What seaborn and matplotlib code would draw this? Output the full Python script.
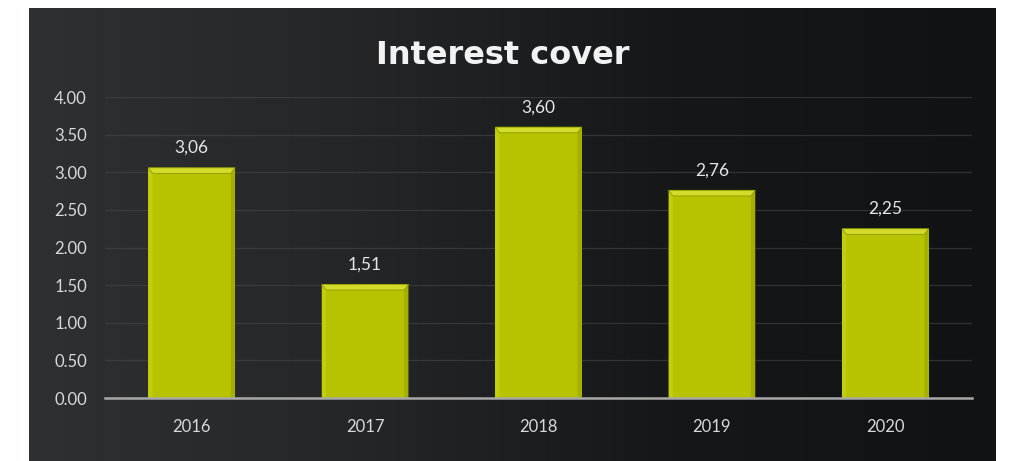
import numpy as np
import pandas as pd
import matplotlib
matplotlib.use("Agg")
import matplotlib.pyplot as plt
import seaborn as sns
from matplotlib.patches import Polygon

years = ["2016", "2017", "2018", "2019", "2020"]
cover = [3.06, 1.51, 3.60, 2.76, 2.25]
value_labels = ["3,06", "1,51", "3,60", "2,76", "2,25"]
y_ticks = [0.0, 0.5, 1.0, 1.5, 2.0, 2.5, 3.0, 3.5, 4.0]

df = pd.DataFrame({"year": years, "cover": cover})

sns.set_theme(style="white")
plt.rcParams["font.family"] = ["Lato", "DejaVu Sans"]

W, H = 1014, 461
fig = plt.figure(figsize=(W / 100, H / 100), dpi=100, facecolor="white")

# chalkboard panel with a left-to-right darkening gradient
bg = fig.add_axes([29 / W, 0, (996 - 29) / W, (H - 8) / H], zorder=0)
grad = np.linspace(0, 1, 256)[None, :]
cmap = matplotlib.colors.LinearSegmentedColormap.from_list(
    "board", ["#2f3032", "#252628", "#161719", "#111214"])
bg.imshow(grad, aspect="auto", cmap=cmap, extent=[0, 1, 0, 1])
bg.set_axis_off()

ax = fig.add_axes([105 / W, (H - 398) / H, (972 - 105) / W, (398 - 97) / H], zorder=1)
ax.patch.set_alpha(0)

sns.barplot(data=df, x="year", y="cover", ax=ax, color="#b7c300",
            width=0.5, saturation=1, edgecolor="none", zorder=3)

ax.set_ylim(0, 4.0)
ax.set_xlim(-0.5, 4.5)
ax.set_yticks(y_ticks)
ax.set_yticklabels([f"{t:.2f}" for t in y_ticks])
for t in y_ticks[1:]:
    ax.axhline(t, color="#4a4b4d", lw=0.9, alpha=0.55, zorder=1)

# bevelled edges on each bar
for p in ax.patches:
    x0, w, h = p.get_x(), p.get_width(), p.get_height()
    bx = w * 0.05
    by = 0.075
    top = Polygon([[x0, h], [x0 + w, h], [x0 + w - bx, h - by], [x0 + bx, h - by]],
                  closed=True, facecolor="#d3dc2a", edgecolor="#8f9900",
                  lw=0.6, zorder=4)
    left = Polygon([[x0, h], [x0 + bx, h - by], [x0 + bx, 0], [x0, 0]],
                   closed=True, facecolor="#c2cd0c", edgecolor="none", zorder=4)
    right = Polygon([[x0 + w, h], [x0 + w - bx, h - by], [x0 + w - bx, 0], [x0 + w, 0]],
                    closed=True, facecolor="#a4af00", edgecolor="none", zorder=4)
    for poly in (left, right, top):
        ax.add_patch(poly)

for i, (v, lab) in enumerate(zip(cover, value_labels)):
    ax.annotate(lab, (i, v), xytext=(0, 8.5), textcoords="offset points",
                ha="center", va="bottom", color="#e6e6e6", fontsize=12.5)

ax.set_xlabel("")
ax.set_ylabel("")
for s in ["left", "right", "top"]:
    ax.spines[s].set_visible(False)
ax.spines["bottom"].set_color("#a8a8a8")
ax.spines["bottom"].set_linewidth(1.8)
ax.spines["bottom"].set_zorder(5)
ax.tick_params(axis="y", length=0, pad=13, labelcolor="#d9d9d9", labelsize=12)
ax.tick_params(axis="x", length=0, pad=15, labelcolor="#d9d9d9", labelsize=12)

fig.text(503 / W, 1 - 55 / H, "Interest cover", ha="center", va="center",
         color="#f2f2f2", fontsize=23, fontweight="bold",
         family=["DejaVu Sans"], zorder=6)

fig.savefig("out.png", dpi=100, facecolor="white")
